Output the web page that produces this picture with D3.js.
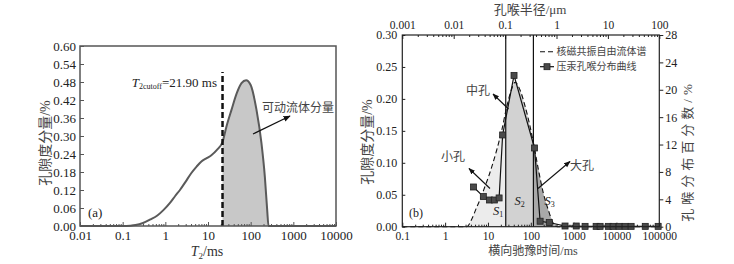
<!DOCTYPE html>
<html><head><meta charset="utf-8">
<script src="https://cdn.jsdelivr.net/npm/d3@7"></script>
<style>
body{margin:0;background:#fff;}
svg{display:block;}
.num{font-family:"Liberation Serif","Times New Roman",serif;}
.cjk{font-family:"Noto Sans CJK SC",sans-serif;}
</style></head><body>
<script>
// panel (a): NMR T2 spectrum
const t2A = [0.01, 0.1, 0.15, 0.2, 0.3, 0.45, 0.65, 0.9, 1.3, 1.7, 2.2, 3, 4, 5.4, 7, 9.3, 12, 16, 21.9, 27, 35.5, 47, 61, 78, 100, 137, 179, 215, 244, 262, 10000];
const ampA = [0, 0, 0.001, 0.003, 0.01, 0.022, 0.035, 0.053, 0.078, 0.1, 0.12, 0.148, 0.175, 0.198, 0.215, 0.226, 0.236, 0.253, 0.28, 0.331, 0.387, 0.442, 0.476, 0.486, 0.47, 0.387, 0.276, 0.164, 0.053, 0, 0];
const t2Cutoff = 21.9;
const ticksAX = [0.01, 0.1, 1, 10, 100, 1000, 10000];
const ticksAY = [0, 0.06, 0.12, 0.18, 0.24, 0.30, 0.36, 0.42, 0.48, 0.54, 0.60];

// panel (b): NMR free fluid spectrum + mercury pore-throat distribution
const t2B = [0.1, 3.2, 4.2, 5.5, 7, 8.5, 10.3, 12.3, 16, 21, 27.5, 34, 43, 56, 74, 96, 120, 151, 197, 257, 337, 420, 100000];
const ampB = [0, 0, 0.012, 0.031, 0.047, 0.063, 0.078, 0.094, 0.12, 0.151, 0.188, 0.211, 0.226, 0.214, 0.188, 0.157, 0.125, 0.089, 0.052, 0.026, 0.005, 0, 0];
const hgT2 = [4.6, 7.8, 10.8, 14.1, 18.2, 22, 40.6, 122, 165, 270, 630, 1150, 1850, 3350, 4150, 6450, 8350, 11500, 16000, 22000, 47000, 94000];
const hgPct = [5.8, 4.4, 3.9, 3.9, 4.2, 13.4, 22.1, 11.5, 0.8, 0.6, 0.1, 0.1, 0.05, 0.05, 0.05, 0.05, 0.05, 0.05, 0.05, 0.05, 0.05, 0.05];
const poreBounds = [26, 115];
const ticksBX = [0.1, 1, 10, 100, 1000, 10000, 100000];
const ticksBTop = [0.001, 0.01, 0.1, 1, 10, 100];
const ticksBY = [0, 0.05, 0.10, 0.15, 0.20, 0.25, 0.30];
const ticksBY2 = [0, 4, 8, 12, 16, 20, 24, 28];

const minors = (lo, hi) => {
    let out = [];
    for (let d = lo; d < hi * 0.99; d *= 10)
        for (let k = 2; k <= 9; k++) out.push(d * k);
    return out;
};

const svg = d3.select('body').append('svg').attr('width', 734).attr('height', 264);
svg.append('rect').attr('width', 734).attr('height', 264).attr('fill', '#fff');
const defs = svg.append('defs');
defs.append('marker').attr('id', 'arr').attr('viewBox', '0 0 10 10')
    .attr('refX', 9).attr('refY', 5).attr('markerWidth', 6).attr('markerHeight', 6)
    .attr('orient', 'auto')
    .append('path').attr('d', 'M0,1L10,5L0,9z').attr('fill', '#111');

function styleAxis(g, size, color){
    g.select('.domain').remove();
    g.selectAll('line').attr('stroke', color);
    g.selectAll('text').attr('class', 'num').attr('font-size', size).attr('fill', '#222');
}

// ---------- panel (a) ----------
const A = {l: 80, r: 336, t: 46, b: 226};
const xA = d3.scaleLog([0.01, 10000], [A.l, A.r]);
const yA = d3.scaleLinear([0, 0.6], [A.b, A.t]);
const gA = svg.append('g');
const dataA = t2A.map((t, i) => [t, ampA[i]]);

defs.append('clipPath').attr('id', 'clipA').append('rect')
    .attr('x', xA(t2Cutoff)).attr('y', A.t).attr('width', A.r - xA(t2Cutoff)).attr('height', A.b - A.t);

gA.append('path').datum(dataA)
    .attr('clip-path', 'url(#clipA)')
    .attr('fill', '#c8c8c8')
    .attr('d', d3.area().x(d => xA(d[0])).y0(yA(0)).y1(d => yA(d[1])).curve(d3.curveMonotoneX));

gA.append('g').attr('transform', `translate(0,${A.b})`)
    .call(d3.axisBottom(xA).tickValues(minors(0.01, 10000)).tickFormat('').tickSize(-2))
    .call(g => styleAxis(g, 13, '#555'));
gA.append('g').attr('transform', `translate(0,${A.b})`)
    .call(d3.axisBottom(xA).tickValues(ticksAX).tickFormat(d => String(d)).tickSize(-4).tickPadding(5))
    .call(g => styleAxis(g, 13, '#555'));
gA.append('g').attr('transform', `translate(${A.l},0)`)
    .call(d3.axisLeft(yA).tickValues(ticksAY).tickFormat(d3.format('.2f')).tickSize(-4).tickPadding(4))
    .call(g => styleAxis(g, 13, '#555'));

gA.append('path').datum(dataA)
    .attr('fill', 'none').attr('stroke', '#5a5a5a').attr('stroke-width', 2)
    .attr('d', d3.line().x(d => xA(d[0])).y(d => yA(d[1])).curve(d3.curveMonotoneX));

gA.append('line')
    .attr('x1', xA(t2Cutoff)).attr('x2', xA(t2Cutoff)).attr('y1', A.b).attr('y2', 72)
    .attr('stroke', '#111').attr('stroke-width', 2.5).attr('stroke-dasharray', '6,3');

gA.append('rect').attr('x', A.l).attr('y', A.t).attr('width', A.r - A.l).attr('height', A.b - A.t)
    .attr('fill', 'none').attr('stroke', '#555').attr('stroke-width', 1.5);

const cut = gA.append('text').attr('class', 'num').attr('font-size', 13).attr('fill', '#222')
    .attr('x', 217).attr('y', 87).attr('text-anchor', 'end');
cut.append('tspan').attr('font-style', 'italic').text('T');
cut.append('tspan').attr('font-size', 8).attr('dy', 2).text('2cutoff');
cut.append('tspan').attr('dy', -2).text('=21.90 ms');

gA.append('text').attr('class', 'cjk').attr('font-size', 12).attr('fill', '#444')
    .attr('x', 262).attr('y', 111.5).text('可动流体分量');
gA.append('line').attr('x1', 253).attr('y1', 134).attr('x2', 290).attr('y2', 116)
    .attr('stroke', '#111').attr('stroke-width', 1.2).attr('marker-end', 'url(#arr)');

gA.append('text').attr('class', 'num').attr('font-size', 13).attr('fill', '#222')
    .attr('x', 88).attr('y', 217).text('(a)');

const tA = gA.append('text').attr('class', 'num').attr('font-size', 14).attr('fill', '#333')
    .attr('x', 207).attr('y', 256).attr('text-anchor', 'middle');
tA.append('tspan').attr('font-style', 'italic').text('T');
tA.append('tspan').attr('font-size', 9).attr('dy', 3).text('2');
tA.append('tspan').attr('dy', -3).text('/ms');

gA.append('text').attr('font-size', 14).attr('fill', '#444')
    .attr('transform', 'translate(50,143) rotate(-90)').attr('text-anchor', 'middle')
    .call(t => {
        t.append('tspan').attr('class', 'cjk').text('孔隙度分量');
        t.append('tspan').attr('class', 'num').text('/%');
    });

// ---------- panel (b) ----------
const B = {l: 402.3, r: 659.3, t: 35, b: 226.7};
const xB = d3.scaleLog([0.1, 100000], [B.l, B.r]);
const xTop = d3.scaleLog([0.001, 100], [B.l, B.r]);
const yB = d3.scaleLinear([0, 0.3], [B.b, B.t]);
const yB2 = d3.scaleLinear([0, 28], [B.b, B.t]);
const gB = svg.append('g');
const dataB = t2B.map((t, i) => [t, ampB[i]]);
const dataHg = hgT2.map((t, i) => [t, hgPct[i]]);

const areaB = d3.area().x(d => xB(d[0])).y0(yB(0)).y1(d => yB(d[1])).curve(d3.curveMonotoneX);
const bands = [
    {id: 'clipS1', x0: B.l, x1: xB(poreBounds[0]), fill: '#ececec'},
    {id: 'clipS2', x0: xB(poreBounds[0]), x1: xB(poreBounds[1]), fill: '#d2d2d2'},
    {id: 'clipS3', x0: xB(poreBounds[1]), x1: B.r, fill: '#a9a9a9'}
];
bands.forEach(s => {
    defs.append('clipPath').attr('id', s.id).append('rect')
        .attr('x', s.x0).attr('y', B.t).attr('width', s.x1 - s.x0).attr('height', B.b - B.t);
    gB.append('path').datum(dataB).attr('clip-path', `url(#${s.id})`)
        .attr('fill', s.fill).attr('d', areaB);
});

gB.append('g').attr('transform', `translate(0,${B.b})`)
    .call(d3.axisBottom(xB).tickValues(minors(0.1, 100000)).tickFormat('').tickSize(-2))
    .call(g => styleAxis(g, 11.5, '#222'));
gB.append('g').attr('transform', `translate(0,${B.b})`)
    .call(d3.axisBottom(xB).tickValues(ticksBX).tickFormat(d => String(d)).tickSize(-4).tickPadding(5))
    .call(g => styleAxis(g, 11.5, '#222'));
gB.append('g').attr('transform', `translate(0,${B.t})`)
    .call(d3.axisTop(xTop).tickValues(minors(0.001, 100)).tickFormat('').tickSize(-2))
    .call(g => styleAxis(g, 11.5, '#222'));
gB.append('g').attr('transform', `translate(0,${B.t})`)
    .call(d3.axisTop(xTop).tickValues(ticksBTop).tickFormat(d => String(d)).tickSize(-4).tickPadding(6))
    .call(g => styleAxis(g, 11.5, '#222'));
gB.append('g').attr('transform', `translate(${B.l},0)`)
    .call(d3.axisLeft(yB).tickValues(ticksBY).tickFormat(d3.format('.2f')).tickSize(-3).tickPadding(5))
    .call(g => styleAxis(g, 12, '#222'));
gB.append('g').attr('transform', `translate(${B.r},0)`)
    .call(d3.axisRight(yB2).tickValues(ticksBY2).tickSize(4).tickPadding(2))
    .call(g => styleAxis(g, 12, '#222'));

poreBounds.forEach(t => {
    gB.append('line').attr('x1', xB(t)).attr('x2', xB(t)).attr('y1', B.t).attr('y2', B.b)
        .attr('stroke', '#111').attr('stroke-width', 1.2);
});

gB.append('path').datum(dataB)
    .attr('fill', 'none').attr('stroke', '#111').attr('stroke-width', 1.1).attr('stroke-dasharray', '5,3')
    .attr('d', d3.line().x(d => xB(d[0])).y(d => yB(d[1])).curve(d3.curveMonotoneX));

gB.append('path').datum(dataHg)
    .attr('fill', 'none').attr('stroke', '#111').attr('stroke-width', 1.2)
    .attr('d', d3.line().x(d => xB(d[0])).y(d => yB2(d[1])));
gB.selectAll('rect.hg').data(dataHg).join('rect').classed('hg', true)
    .attr('x', d => xB(d[0]) - 3).attr('y', d => yB2(d[1]) - 3)
    .attr('width', 6).attr('height', 6)
    .attr('fill', '#4a4a4a').attr('stroke', '#222').attr('stroke-width', 0.8);

gB.append('rect').attr('x', B.l).attr('y', B.t).attr('width', B.r - B.l).attr('height', B.b - B.t)
    .attr('fill', 'none').attr('stroke', '#222').attr('stroke-width', 1.2);

// legend
gB.append('line').attr('x1', 540).attr('x2', 553).attr('y1', 51.7).attr('y2', 51.7)
    .attr('stroke', '#111').attr('stroke-width', 1.1).attr('stroke-dasharray', '5,3');
gB.append('text').attr('class', 'cjk').attr('font-size', 10).attr('fill', '#444')
    .attr('x', 556.5).attr('y', 55.3).text('核磁共振自由流体谱');
gB.append('line').attr('x1', 540).attr('x2', 554).attr('y1', 66.7).attr('y2', 66.7)
    .attr('stroke', '#111').attr('stroke-width', 1.2);
gB.append('rect').attr('x', 544).attr('y', 63.7).attr('width', 6).attr('height', 6)
    .attr('fill', '#4a4a4a').attr('stroke', '#222').attr('stroke-width', 0.8);
gB.append('text').attr('class', 'cjk').attr('font-size', 10).attr('fill', '#444')
    .attr('x', 556.5).attr('y', 70.3).text('压汞孔喉分布曲线');

// pore class annotations
const notes = [
    {text: '中孔', x: 478, y: 94.5, from: [508.5, 109], to: [493, 94]},
    {text: '小孔', x: 453, y: 161, from: [490, 188.5], to: [469, 168.5]},
    {text: '大孔', x: 582, y: 169.5, from: [538, 188.5], to: [570, 161.5]}
];
notes.forEach(n => {
    gB.append('text').attr('class', 'cjk').attr('font-size', 12).attr('fill', '#444')
        .attr('x', n.x).attr('y', n.y).attr('text-anchor', 'middle').text(n.text);
    gB.append('line').attr('x1', n.from[0]).attr('y1', n.from[1]).attr('x2', n.to[0]).attr('y2', n.to[1])
        .attr('stroke', '#111').attr('stroke-width', 1.1).attr('marker-end', 'url(#arr)');
});

[['1', 498, 214.5], ['2', 519.5, 204.5], ['3', 549.5, 204.5]].forEach(([k, x, y]) => {
    const t = gB.append('text').attr('class', 'num').attr('font-size', 12.5).attr('fill', '#222')
        .attr('x', x).attr('y', y).attr('text-anchor', 'middle');
    t.append('tspan').attr('font-style', 'italic').text('S');
    t.append('tspan').attr('font-size', 8).attr('dy', 2.5).text(k);
});

gB.append('text').attr('class', 'num').attr('font-size', 12).attr('fill', '#222')
    .attr('x', 409).attr('y', 216.5).text('(b)');

gB.append('text').attr('font-size', 12).attr('fill', '#444')
    .attr('x', 533).attr('y', 255).attr('text-anchor', 'middle')
    .call(t => {
        t.append('tspan').attr('class', 'cjk').text('横向驰豫时间');
        t.append('tspan').attr('class', 'num').text('/ms');
    });
gB.append('text').attr('font-size', 13).attr('fill', '#444')
    .attr('x', 530).attr('y', 14).attr('text-anchor', 'middle')
    .call(t => {
        t.append('tspan').attr('class', 'cjk').text('孔喉半径');
        t.append('tspan').attr('class', 'num').text('/μm');
    });
gB.append('text').attr('font-size', 14).attr('fill', '#444')
    .attr('transform', 'translate(372,142) rotate(-90)').attr('text-anchor', 'middle')
    .call(t => {
        t.append('tspan').attr('class', 'cjk').text('孔隙度分量');
        t.append('tspan').attr('class', 'num').text('/%');
    });
gB.append('text').attr('font-size', 13).attr('fill', '#444').attr('letter-spacing', 4)
    .attr('transform', 'translate(692,151) rotate(-90)').attr('text-anchor', 'middle')
    .call(t => {
        t.append('tspan').attr('class', 'cjk').text('孔喉分布百分数');
        t.append('tspan').attr('class', 'num').text('/%');
    });
</script>
</body></html>
